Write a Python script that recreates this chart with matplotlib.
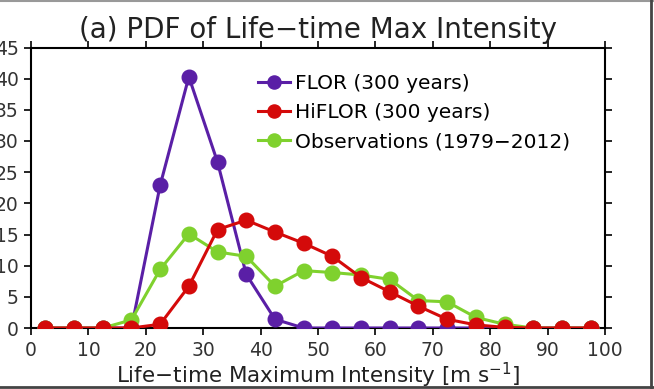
import matplotlib
matplotlib.use('Agg')
import matplotlib.pyplot as plt
from matplotlib.lines import Line2D

plt.rcParams['font.family'] = ['DejaVu Sans']
plt.rcParams['mathtext.fontset'] = 'dejavusans'

# bin centres of life-time max intensity (m/s)
intensity = [2.5, 7.5, 12.5, 17.5, 22.5, 27.5, 32.5, 37.5, 42.5, 47.5,
             52.5, 57.5, 62.5, 67.5, 72.5, 77.5, 82.5, 87.5, 92.5, 97.5]

# PDF values (%)
flor = [0, 0, 0, 0, 22.9, 40.3, 26.6, 8.6, 1.4, 0,
        0, 0, 0, 0, 0, 0, 0, 0, 0, 0]
hiflor = [0, 0, 0, 0, 0.6, 6.7, 15.8, 17.3, 15.4, 13.6,
          11.5, 8.1, 5.8, 3.5, 1.4, 0.5, 0.1, 0, 0, 0]
obs = [0, 0, 0, 1.3, 9.4, 15.1, 12.2, 11.5, 6.7, 9.2,
       8.9, 8.5, 7.8, 4.4, 4.2, 1.7, 0.6, 0, 0, 0]

labels = ['FLOR (300 years)', 'HiFLOR (300 years)', 'Observations (1979\u22122012)']
colors = ['#5a1fa6', '#d40a0a', '#7fd12e']

fig = plt.figure(figsize=(6.54, 3.89), dpi=100)
ax = fig.add_axes([31 / 654, 1 - 328 / 389, (605 - 31) / 654, (328 - 47.5) / 389])

ax.plot(intensity, flor, '-o', color=colors[0], lw=2.2, ms=10.5, label=labels[0], zorder=3)
ax.plot(intensity, obs, '-o', color=colors[2], lw=2.2, ms=10.5, label=labels[2], zorder=3)
ax.plot(intensity, hiflor, '-o', color=colors[1], lw=2.2, ms=10.5, label=labels[1], zorder=4)

ax.set_xlim(0, 100)
ax.set_ylim(0, 45)
ax.set_xticks(range(0, 101, 10))
ax.set_yticks(range(0, 46, 5))
ax.tick_params(direction='out', length=5, width=1.2, labelsize=13.5, top=True, right=True,
               labelcolor='#333333')
ax.tick_params(axis='x', pad=4)
ax.tick_params(axis='y', pad=4)
for s in ax.spines.values():
    s.set_linewidth(1.5)

ax.set_title('(a) PDF of Life\u2212time Max Intensity', fontsize=20, pad=7, color='#222222')
ax.set_xlabel('Life\u2212time Maximum Intensity [m s$^{\u22121}$]', fontsize=15.5,
              color='#222222', va='baseline')
ax.xaxis.set_label_coords(0.5, -55 / 280.5)

handles, lbls = ax.get_legend_handles_labels()
order = [0, 2, 1]
ax.legend([handles[i] for i in order], [lbls[i] for i in order],
          loc='upper left', bbox_to_anchor=(0.395, 0.905), frameon=False,
          fontsize=14.5, handlelength=1.6, handletextpad=0.25, labelspacing=0.5,
          borderaxespad=0, borderpad=0, markerscale=0.9)

# screenshot frame
fig.add_artist(Line2D([0, 1], [0.997, 0.997], color='#999999', lw=1.5))
fig.add_artist(Line2D([651 / 654, 651 / 654], [0, 1], color='#444444', lw=2))
fig.add_artist(Line2D([0, 1], [2 / 389, 2 / 389], color='#444444', lw=2))

fig.savefig('out.png', dpi=100)
